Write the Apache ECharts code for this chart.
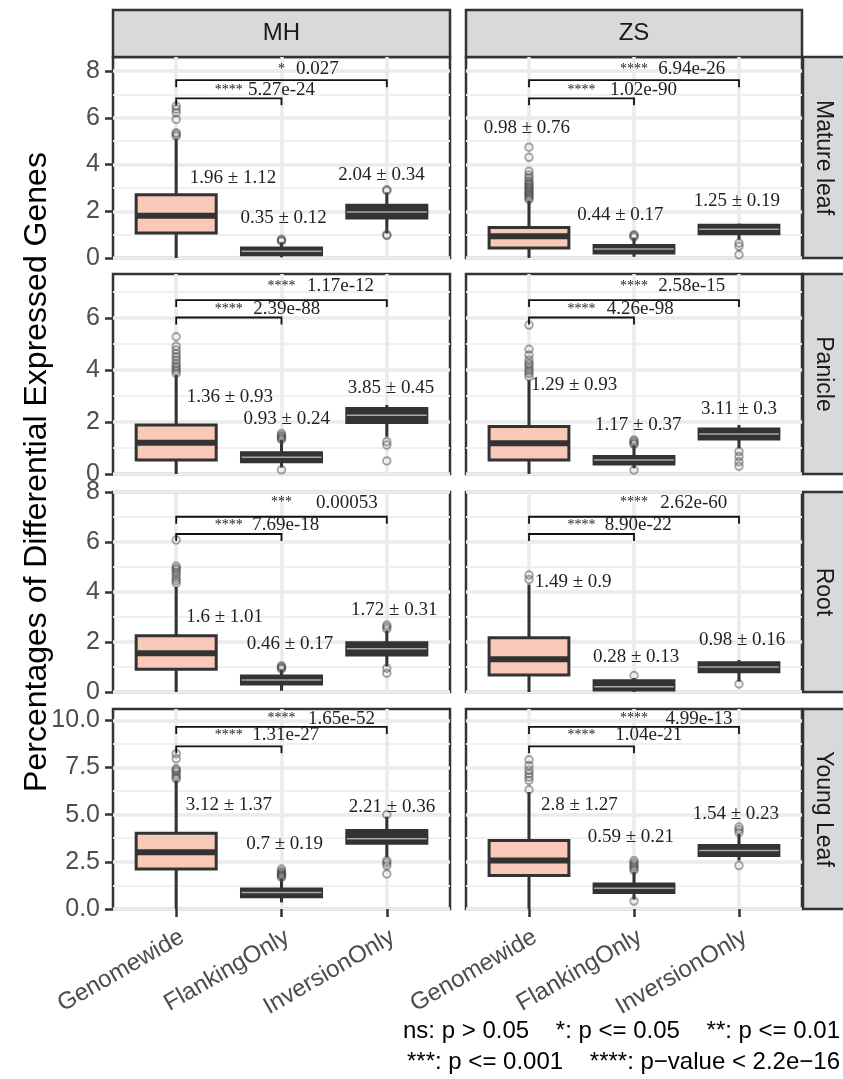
<!DOCTYPE html>
<html>
<head>
<meta charset="utf-8">
<script src="https://cdn.jsdelivr.net/npm/echarts@6/dist/echarts.min.js"></script>
<style>
  html, body { margin: 0; padding: 0; background: #fff; }
  #chart { width: 843px; height: 1079px; }
</style>
</head>
<body>
<div id="chart"></div>
<script>
var groups = ['Genomewide', 'FlankingOnly', 'InversionOnly'];
var cultivars = ['MH', 'ZS'];
var tissues = ['Mature leaf', 'Panicle', 'Root', 'Young Leaf'];
var yTicks = [[0, 2, 4, 6, 8], [0, 2, 4, 6], [0, 2, 4, 6, 8], [0, 2.5, 5, 7.5, 10]];
var yMax = [8.6, 7.68, 8.0, 10.6];

// box stats per group: [lower whisker, Q1, median, Q3, upper whisker]
var statsMatureMH = [[0, 1.07, 1.81, 2.71, 5.1], [0.03, 0.14, 0.29, 0.43, 0.66], [1.05, 1.71, 1.97, 2.26, 2.8]];
var statsMatureZS = [[0, 0.43, 0.93, 1.31, 2.45], [0.05, 0.21, 0.39, 0.54, 0.85], [0.79, 1.04, 1.23, 1.4, 1.47]];
var statsPanicleMH = [[0, 0.54, 1.2, 1.88, 3.8], [0.25, 0.47, 0.64, 0.82, 1.3], [1.43, 1.98, 2.26, 2.52, 2.65]];
var statsPanicleZS = [[0, 0.54, 1.18, 1.82, 3.6], [0.22, 0.38, 0.54, 0.67, 1.1], [0.99, 1.34, 1.54, 1.73, 1.88]];
var statsRootMH = [[0, 0.91, 1.55, 2.25, 4.2], [0.05, 0.32, 0.48, 0.64, 0.88], [1.02, 1.48, 1.73, 1.97, 2.45]];
var statsRootZS = [[0, 0.68, 1.31, 2.17, 4.3], [0, 0.08, 0.21, 0.45, 0.56], [0.42, 0.81, 1.0, 1.17, 1.28]];
var statsYoungMH = [[0, 2.12, 3.01, 4.02, 6.8], [0.35, 0.65, 0.87, 1.06, 1.6], [2.74, 3.49, 3.72, 4.16, 4.9]];
var statsYoungZS = [[0, 1.77, 2.57, 3.63, 6.2], [0.5, 0.88, 1.1, 1.33, 1.95], [2.57, 2.83, 3.1, 3.36, 3.98]];

// outliers per group
var outMatureMH = [[6.5, 6.36, 6.21, 5.93, 5.36, 5.29, 5.21], [0.72, 0.76, 0.8], [2.88, 2.92, 1.0, 0.96]];
var outMatureZS = [[4.74, 4.31, 3.71, 3.55, 3.43, 3.3, 3.21, 3.14, 3.07, 3.0, 2.93, 2.86, 2.79, 2.72, 2.65, 2.57, 2.5], [0.9, 0.95, 1.0], [0.64, 0.5, 0.14]];
var outPanicleMH = [[5.27, 4.91, 4.76, 4.62, 4.5, 4.38, 4.25, 4.15, 4.06, 3.96, 3.86], [1.56, 1.48, 1.43, 1.37, 1.33, 0.16], [1.24, 1.11, 0.5]];
var outPanicleZS = [[5.72, 4.79, 4.57, 4.38, 4.25, 4.18, 4.06, 3.96, 3.86, 3.74], [1.31, 1.25, 1.18, 1.14, 0.15], [0.86, 0.67, 0.47, 0.3]];
var outRootMH = [[6.08, 5.04, 4.95, 4.88, 4.78, 4.68, 4.55, 4.45, 4.35], [0.92, 0.96, 1.0, 1.05], [2.52, 2.6, 2.68, 0.95, 0.75]];
var outRootZS = [[4.68, 4.5], [0.66], [0.32]];
var outYoungMH = [[8.23, 7.96, 7.43, 7.35, 7.26, 7.12, 6.99, 6.9], [2.12, 2.0, 1.92, 1.86, 1.8, 1.74, 1.68], [5.0, 2.57, 2.45, 2.3, 1.86]];
var outYoungZS = [[7.91, 7.61, 7.35, 7.17, 6.99, 6.81, 6.32], [2.57, 2.45, 2.35, 2.25, 2.15, 2.05, 0.42], [4.34, 4.2, 4.05, 2.3]];

// mean ± sd labels, [MH, ZS] per tissue
var meanMature = [['1.96 ± 1.12', '0.35 ± 0.12', '2.04 ± 0.34'], ['0.98 ± 0.76', '0.44 ± 0.17', '1.25 ± 0.19']];
var meanPanicle = [['1.36 ± 0.93', '0.93 ± 0.24', '3.85 ± 0.45'], ['1.29 ± 0.93', '1.17 ± 0.37', '3.11 ± 0.3']];
var meanRoot = [['1.6 ± 1.01', '0.46 ± 0.17', '1.72 ± 0.31'], ['1.49 ± 0.9', '0.28 ± 0.13', '0.98 ± 0.16']];
var meanYoung = [['3.12 ± 1.37', '0.7 ± 0.19', '2.21 ± 0.36'], ['2.8 ± 1.27', '0.59 ± 0.21', '1.54 ± 0.23']];

// significance: [Genomewide vs FlankingOnly, Genomewide vs InversionOnly], [MH, ZS]
var starsMature = [['****', '*'], ['****', '****']];
var pMature = [['5.27e-24', '0.027'], ['1.02e-90', '6.94e-26']];
var starsPanicle = [['****', '****'], ['****', '****']];
var pPanicle = [['2.39e-88', '1.17e-12'], ['4.26e-98', '2.58e-15']];
var starsRoot = [['****', '***'], ['****', '****']];
var pRoot = [['7.69e-18', '0.00053'], ['8.90e-22', '2.62e-60']];
var starsYoung = [['****', '****'], ['****', '****']];
var pYoung = [['1.31e-27', '1.65e-52'], ['1.04e-21', '4.99e-13']];

// annotation placement (data units)
var bracketY = [[6.83, 7.61], [6.01, 6.68], [6.32, 7.01], [8.62, 9.65]];
var sigLabelY = [[7.17, 8.07], [6.32, 7.22], [6.68, 7.57], [9.2, 10.09]];
var pLabelX = [[[2.0, 2.34], [2.09, 2.55]], [[2.05, 2.56], [2.06, 2.55]], [[2.04, 2.62], [2.04, 2.57]], [[2.04, 2.57], [2.14, 2.62]]];
var meanPos = [
  [[[1.54, 3.43], [2.02, 1.71], [2.95, 3.57]], [[0.98, 5.57], [1.87, 1.86], [2.98, 2.43]]],
  [[[1.51, 2.97], [2.05, 2.1], [3.04, 3.29]], [[1.43, 3.42], [2.04, 1.88], [3.0, 2.48]]],
  [[[1.46, 3.01], [2.08, 1.91], [3.07, 3.28]], [[1.42, 4.41], [2.02, 1.41], [3.03, 2.08]]],
  [[[1.5, 5.49], [2.03, 3.45], [3.05, 5.43]], [[1.48, 5.49], [1.97, 3.81], [2.97, 5.01]]]
];

var SANS = 'Liberation Sans, Arial, sans-serif';
var SERIF = 'Liberation Serif, Times New Roman, serif';
var DARK = '#333333';
var PINK = '#f8c8b8';
var colLeft = [113, 466], colWidth = [337, 336];
var rowTop = [57, 274, 492, 709], rowHeight = [201, 200, 200, 200];

var stats = [[statsMatureMH, statsMatureZS], [statsPanicleMH, statsPanicleZS], [statsRootMH, statsRootZS], [statsYoungMH, statsYoungZS]];
var outs = [[outMatureMH, outMatureZS], [outPanicleMH, outPanicleZS], [outRootMH, outRootZS], [outYoungMH, outYoungZS]];
var means = [meanMature, meanPanicle, meanRoot, meanYoung];
var stars = [starsMature, starsPanicle, starsRoot, starsYoung];
var pvals = [pMature, pPanicle, pRoot, pYoung];

function boxRenderer(params, api) {
  var x = api.value(0);
  var lo = api.coord([x, api.value(1)]);
  var q1 = api.coord([x, api.value(2)]);
  var md = api.coord([x, api.value(3)]);
  var q3 = api.coord([x, api.value(4)]);
  var hi = api.coord([x, api.value(5)]);
  var half = api.size([0.76, 0])[0] / 2;
  var first = params.dataIndex === 0;
  return {
    type: 'group',
    children: [
      { type: 'line', shape: { x1: lo[0], y1: lo[1], x2: q1[0], y2: q1[1] }, style: { stroke: DARK, lineWidth: 3 } },
      { type: 'line', shape: { x1: q3[0], y1: q3[1], x2: hi[0], y2: hi[1] }, style: { stroke: DARK, lineWidth: 3 } },
      { type: 'rect', shape: { x: q3[0] - half, y: q3[1], width: half * 2, height: q1[1] - q3[1] },
        style: { fill: first ? PINK : DARK, stroke: DARK, lineWidth: 3 } },
      { type: 'line', shape: { x1: md[0] - half, y1: md[1], x2: md[0] + half, y2: md[1] },
        style: { stroke: first ? DARK : '#a9a9a9', lineWidth: first ? 6 : 1.5 } }
    ]
  };
}

function bracketRenderer(params, api) {
  var a = api.coord([api.value(0), api.value(2)]);
  var b = api.coord([api.value(1), api.value(2)]);
  return {
    type: 'polyline',
    shape: { points: [[a[0], a[1] + 7], [a[0], a[1]], [b[0], b[1]], [b[0], b[1] + 7]] },
    style: { stroke: '#111', lineWidth: 1.8, fill: null }
  };
}

function textRenderer(items) {
  return function (params, api) {
    var it = items[params.dataIndex];
    var p = api.coord([api.value(0), api.value(1)]);
    return {
      type: 'text', x: p[0], y: p[1],
      style: { text: it.text, fontFamily: SERIF, fontSize: it.size, fill: '#222',
        align: 'center', verticalAlign: 'middle', textAlign: 'center', textVerticalAlign: 'middle' }
    };
  };
}

var grids = [], xAxes = [], yAxes = [], series = [], graphics = [];

for (var r = 0; r < 4; r++) {
  for (var c = 0; c < 2; c++) {
    var g = r * 2 + c;
    grids.push({ left: colLeft[c], top: rowTop[r], width: colWidth[c], height: rowHeight[r],
      show: true, backgroundColor: '#fff', borderColor: DARK, borderWidth: 2.5 });
    xAxes.push({
      gridIndex: g, type: 'value', min: 0.4, max: 3.6,
      axisLine: { show: false },
      axisTick: { show: r === 3, customValues: [1, 2, 3], length: 8, lineStyle: { color: DARK, width: 2.5 } },
      axisLabel: { show: r === 3, customValues: [1, 2, 3], rotate: 30, margin: 16, verticalAlign: 'top',
        color: '#4d4d4d', fontSize: 24, fontFamily: SANS,
        formatter: function (v) { return groups[Math.round(v) - 1]; } },
      splitLine: { show: true, lineStyle: { color: '#ebebeb', width: 3.5 } }
    });
    (function (row) {
      yAxes.push({
        gridIndex: g, type: 'value', min: 0, max: yMax[row], interval: row === 3 ? 2.5 : 2,
        axisLine: { show: false },
        axisTick: { show: c === 0, customValues: yTicks[row], length: 8, lineStyle: { color: DARK, width: 2.5 } },
        axisLabel: { show: c === 0, customValues: yTicks[row], margin: 13, color: '#4d4d4d', fontSize: 25, fontFamily: SANS,
          formatter: function (v) { return row === 3 ? v.toFixed(1) : String(v); } },
        splitLine: { show: true, lineStyle: { color: '#ebebeb', width: 3.5 } },
        minorTick: { show: false, splitNumber: 2 },
        minorSplitLine: { show: true, lineStyle: { color: '#f0f0f0', width: 1.8 } }
      });
    })(r);

    series.push({
      type: 'custom', xAxisIndex: g, yAxisIndex: g, z: 3,
      renderItem: boxRenderer,
      data: stats[r][c].map(function (s, i) { return [i + 1].concat(s); })
    });

    var pts = [];
    outs[r][c].forEach(function (arr, i) { arr.forEach(function (v) { pts.push([i + 1, v]); }); });
    series.push({
      type: 'scatter', xAxisIndex: g, yAxisIndex: g, z: 4, symbol: 'circle', symbolSize: 7.5,
      silent: true,
      itemStyle: { color: 'rgba(0,0,0,0)', borderColor: 'rgba(70,70,70,0.6)', borderWidth: 2 },
      data: pts
    });

    series.push({
      type: 'custom', xAxisIndex: g, yAxisIndex: g, z: 5,
      renderItem: bracketRenderer,
      data: [[1, 2, bracketY[r][0]], [1, 3, bracketY[r][1]]]
    });

    var items = [], tdata = [];
    for (var i = 0; i < 3; i++) {
      items.push({ text: means[r][c][i], size: 19 });
      tdata.push(meanPos[r][c][i]);
    }
    for (var k = 0; k < 2; k++) {
      items.push({ text: stars[r][c][k], size: 14 });
      tdata.push([k === 0 ? 1.5 : 2.0, sigLabelY[r][k]]);
      items.push({ text: pvals[r][c][k], size: 19 });
      tdata.push([pLabelX[r][c][k], sigLabelY[r][k]]);
    }
    series.push({
      type: 'custom', xAxisIndex: g, yAxisIndex: g, z: 6,
      renderItem: textRenderer(items),
      data: tdata
    });
  }
}

// facet strips
cultivars.forEach(function (name, c) {
  graphics.push({ type: 'rect', shape: { x: colLeft[c], y: 10, width: colWidth[c], height: rowTop[0] - 10 },
    style: { fill: '#d9d9d9', stroke: DARK, lineWidth: 2.5 } });
  graphics.push({ type: 'text', x: colLeft[c] + colWidth[c] / 2, y: (10 + rowTop[0]) / 2,
    style: { text: name, fontFamily: SANS, fontSize: 24, fill: '#1a1a1a', align: 'center', verticalAlign: 'middle', textAlign: 'center', textVerticalAlign: 'middle' } });
});
tissues.forEach(function (name, r) {
  graphics.push({ type: 'rect', shape: { x: 803, y: rowTop[r], width: 50, height: rowHeight[r] },
    style: { fill: '#d9d9d9', stroke: DARK, lineWidth: 2.5 } });
  graphics.push({ type: 'text', x: 823, y: rowTop[r] + rowHeight[r] / 2, rotation: -Math.PI / 2,
    style: { text: name, fontFamily: SANS, fontSize: 23, fill: '#1a1a1a', align: 'center', verticalAlign: 'middle', textAlign: 'center', textVerticalAlign: 'middle' } });
});
graphics.push({ type: 'text', x: 37, y: 472, rotation: Math.PI / 2,
  style: { text: 'Percentages of Differential Expressed Genes', fontFamily: SANS, fontSize: 32, fill: '#000',
    align: 'center', verticalAlign: 'middle', textAlign: 'center', textVerticalAlign: 'middle' } });
graphics.push({ type: 'text', x: 840, y: 1031,
  style: { text: 'ns: p > 0.05    *: p <= 0.05    **: p <= 0.01', fontFamily: SANS, fontSize: 24, fill: '#000',
    align: 'right', verticalAlign: 'middle', textAlign: 'right', textVerticalAlign: 'middle' } });
graphics.push({ type: 'text', x: 840, y: 1062,
  style: { text: '***: p <= 0.001    ****: p\u2212value < 2.2e\u221216', fontFamily: SANS, fontSize: 24, fill: '#000',
    align: 'right', verticalAlign: 'middle', textAlign: 'right', textVerticalAlign: 'middle' } });

var chart = echarts.init(document.getElementById('chart'), null, { renderer: 'canvas' });
chart.setOption({
  animation: false,
  backgroundColor: '#fff',
  grid: grids,
  xAxis: xAxes,
  yAxis: yAxes,
  series: series,
  graphic: { elements: graphics }
});
</script>
</body>
</html>
